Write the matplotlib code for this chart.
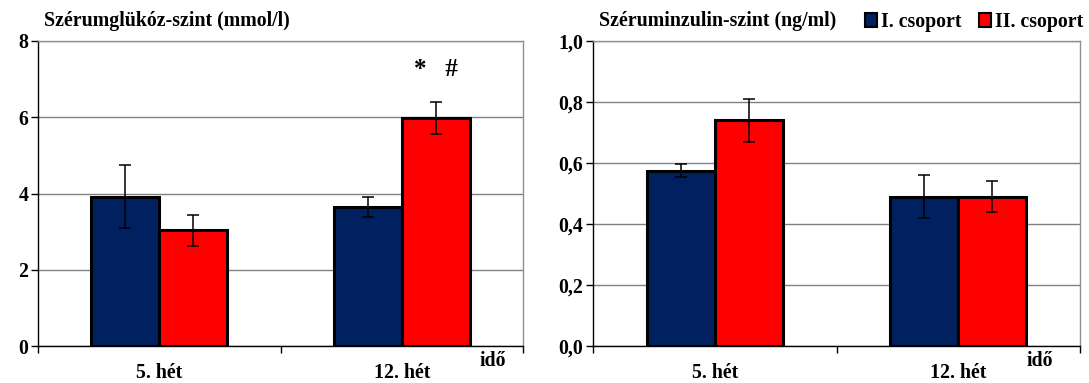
import matplotlib.pyplot as plt
from matplotlib.patches import Patch
from matplotlib.ticker import FuncFormatter
import numpy as np

plt.rcParams['font.family'] = ['Liberation Serif', 'DejaVu Serif']
plt.rcParams['font.weight'] = 'bold'
plt.rcParams['font.size'] = 14.3

hetek = ['5. hét', '12. hét']
csoportok = ['I. csoport', 'II. csoport']
szinek = ['#002060', '#ff0000']

# szérumglükóz (mmol/l) és SEM
glukoz_I = [3.92, 3.65]
glukoz_I_hiba = [0.83, 0.27]
glukoz_II = [3.03, 5.97]
glukoz_II_hiba = [0.40, 0.42]

# széruminzulin (ng/ml) és SEM
inzulin_I = [0.575, 0.49]
inzulin_I_hiba = [0.022, 0.07]
inzulin_II = [0.74, 0.49]
inzulin_II_hiba = [0.07, 0.05]

W, H = 1089, 383
fig = plt.figure(figsize=(W / 100, H / 100), dpi=100)
ax1 = fig.add_axes([38 / W, 1 - 346 / H, 485 / W, 305 / H])
ax2 = fig.add_axes([593 / W, 1 - 346 / H, 487 / W, 305 / H])

def oszlopok(ax, ertekek, hibak, ymax, lepes, cim, formatum):
    x = np.arange(len(hetek))
    w = 0.28
    for i, (v, e) in enumerate(zip(ertekek, hibak)):
        ax.bar(x + (i - 0.5) * w, v, w, color=szinek[i], edgecolor='black',
               linewidth=2.2, zorder=3)
        ax.errorbar(x + (i - 0.5) * w, v, yerr=e, fmt='none', ecolor='black',
                    elinewidth=1.1, capsize=4, capthick=1.1, zorder=4)
    ax.set_xlim(-0.5, 1.5)
    ax.set_ylim(0, ymax)
    ax.set_yticks(np.arange(0, ymax + lepes / 2, lepes))
    ax.yaxis.set_major_formatter(FuncFormatter(formatum))
    ax.set_xticks(x)
    ax.set_xticklabels(hetek)
    ax.set_xticks([-0.5, 0.5, 1.5], minor=True)
    ax.tick_params(axis='x', which='major', length=0, pad=12)
    ax.tick_params(axis='x', which='minor', length=5, width=1, color='black', direction='out')
    ax.tick_params(axis='y', length=5, width=1, pad=2, direction='out')
    ax.grid(axis='y', color='#808080', linewidth=1, zorder=0)
    for s in ['top', 'right']:
        ax.spines[s].set_color('#909090')
        ax.spines[s].set_linewidth(1)
    for s in ['left', 'bottom']:
        ax.spines[s].set_color('black')
        ax.spines[s].set_linewidth(1)
    ax.text(0.012, 1.065, cim, transform=ax.transAxes, ha='left', va='center')

oszlopok(ax1, [glukoz_I, glukoz_II], [glukoz_I_hiba, glukoz_II_hiba], 8, 2,
         'Szérumglükóz-szint (mmol/l)', lambda v, p: f'{v:.0f}')
oszlopok(ax2, [inzulin_I, inzulin_II], [inzulin_I_hiba, inzulin_II_hiba], 1.0, 0.2,
         'Széruminzulin-szint (ng/ml)', lambda v, p: f'{v:.1f}'.replace('.', ','))

ax1.text(1 + 0.5 * 0.28, 7.25, '*   #', ha='center', va='center', fontsize=18)
ax1.text(0.937, -0.05, 'idő', transform=ax1.transAxes, ha='center', va='center')
ax2.text(0.918, -0.05, 'idő', transform=ax2.transAxes, ha='center', va='center')

jelek = [Patch(facecolor=c, edgecolor='black', linewidth=1.5) for c in szinek]
fig.legend(jelek, csoportok, loc='upper right', bbox_to_anchor=(1.011, 1.015), ncol=2,
           frameon=False, handlelength=0.6, handleheight=0.7, handletextpad=0.2,
           columnspacing=0.9)

fig.savefig('out.png', dpi=100)
